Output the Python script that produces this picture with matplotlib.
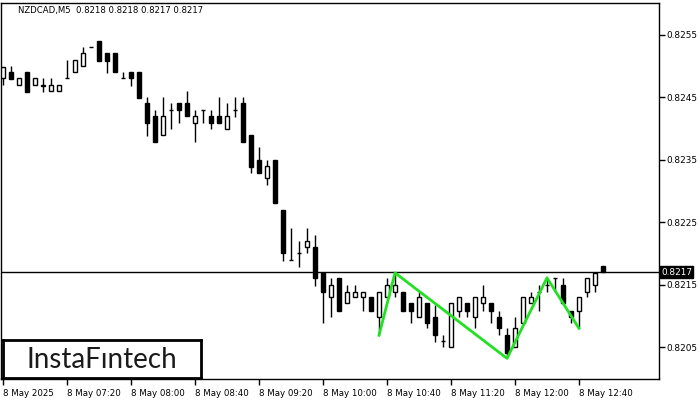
import matplotlib.pyplot as plt
import numpy as np

# 5-minute NZDCAD candles, 8 May 2025 06:40 .. 12:55
opens = [0.82481, 0.82491, 0.82470, 0.82491, 0.82470, 0.82468, 0.82460, 0.82460,
         0.82481, 0.82491, 0.82500, 0.82531, 0.82540, 0.82521, 0.82521, 0.82481,
         0.82491, 0.82491, 0.82441, 0.82420, 0.82390, 0.82430, 0.82441, 0.82441,
         0.82409, 0.82430, 0.82420, 0.82420, 0.82399, 0.82430, 0.82441, 0.82390,
         0.82350, 0.82321, 0.82350, 0.82270, 0.82189, 0.82201, 0.82210, 0.82210,
         0.82169, 0.82130, 0.82161, 0.82120, 0.82130, 0.82130, 0.82130, 0.82098,
         0.82130, 0.82138, 0.82138, 0.82120, 0.82098, 0.82120, 0.82098, 0.82060,
         0.82050, 0.82108, 0.82120, 0.82098, 0.82120, 0.82120, 0.82098, 0.82069,
         0.82050, 0.82088, 0.82120, 0.82138, 0.82149, 0.82161, 0.82149, 0.82108,
         0.82108, 0.82138, 0.82149, 0.82180]
highs = [0.82499, 0.82500, 0.82481, 0.82491, 0.82481, 0.82481, 0.82481, 0.82470,
         0.82510, 0.82510, 0.82531, 0.82531, 0.82540, 0.82521, 0.82521, 0.82491,
         0.82491, 0.82491, 0.82451, 0.82430, 0.82451, 0.82441, 0.82441, 0.82460,
         0.82430, 0.82430, 0.82430, 0.82451, 0.82441, 0.82451, 0.82451, 0.82390,
         0.82371, 0.82350, 0.82350, 0.82270, 0.82241, 0.82220, 0.82241, 0.82230,
         0.82169, 0.82161, 0.82161, 0.82149, 0.82149, 0.82138, 0.82130, 0.82138,
         0.82161, 0.82169, 0.82138, 0.82120, 0.82138, 0.82120, 0.82117, 0.82069,
         0.82120, 0.82130, 0.82120, 0.82130, 0.82149, 0.82120, 0.82108, 0.82080,
         0.82098, 0.82130, 0.82138, 0.82149, 0.82161, 0.82161, 0.82161, 0.82108,
         0.82130, 0.82161, 0.82169, 0.82180]
lows = [0.82470, 0.82480, 0.82470, 0.82459, 0.82470, 0.82459, 0.82460, 0.82460,
        0.82481, 0.82491, 0.82500, 0.82531, 0.82508, 0.82489, 0.82491, 0.82481,
        0.82468, 0.82449, 0.82388, 0.82379, 0.82390, 0.82399, 0.82409, 0.82420,
        0.82379, 0.82409, 0.82399, 0.82409, 0.82399, 0.82419, 0.82379, 0.82329,
        0.82329, 0.82310, 0.82281, 0.82188, 0.82189, 0.82178, 0.82201, 0.82148,
        0.82088, 0.82098, 0.82108, 0.82120, 0.82130, 0.82108, 0.82108, 0.82069,
        0.82130, 0.82130, 0.82108, 0.82088, 0.82098, 0.82080, 0.82058, 0.82050,
        0.82050, 0.82098, 0.82098, 0.82080, 0.82108, 0.82088, 0.82069, 0.82032,
        0.82050, 0.82088, 0.82120, 0.82108, 0.82138, 0.82138, 0.82120, 0.82088,
        0.82080, 0.82130, 0.82138, 0.82170]
closes = [0.82499, 0.82480, 0.82481, 0.82459, 0.82481, 0.82469, 0.82470, 0.82470,
          0.82481, 0.82510, 0.82521, 0.82531, 0.82508, 0.82508, 0.82491, 0.82481,
          0.82481, 0.82449, 0.82409, 0.82379, 0.82420, 0.82430, 0.82430, 0.82420,
          0.82420, 0.82430, 0.82409, 0.82409, 0.82420, 0.82430, 0.82379, 0.82338,
          0.82329, 0.82340, 0.82281, 0.82201, 0.82189, 0.82201, 0.82220, 0.82161,
          0.82138, 0.82149, 0.82108, 0.82138, 0.82138, 0.82138, 0.82108, 0.82138,
          0.82149, 0.82149, 0.82108, 0.82108, 0.82130, 0.82088, 0.82069, 0.82060,
          0.82120, 0.82130, 0.82108, 0.82130, 0.82130, 0.82108, 0.82080, 0.82040,
          0.82080, 0.82130, 0.82130, 0.82138, 0.82149, 0.82161, 0.82120, 0.82098,
          0.82130, 0.82161, 0.82169, 0.82170]

time_labels = ['8 May 2025', '8 May 07:20', '8 May 08:00', '8 May 08:40', '8 May 09:20',
               '8 May 10:00', '8 May 10:40', '8 May 11:20', '8 May 12:00', '8 May 12:40']
price_ticks = [0.8205, 0.8215, 0.8225, 0.8235, 0.8245, 0.8255]

# pattern (green zigzag): bar index, price
pattern_idx = [47, 49, 63, 68, 72]
pattern_px = [0.82069, 0.82169, 0.82032, 0.82161, 0.82080]

last_price = 0.8217
title = 'NZDCAD,M5  0.8218 0.8218 0.8217 0.8217'

fig = plt.figure(figsize=(7, 4), dpi=100)
ax = fig.add_axes([1 / 700, 21 / 400, 658 / 700, 376 / 400])

x = np.arange(len(opens))
o = np.array(opens)
c = np.array(closes)

ax.vlines(x, lows, highs, color='black', lw=1, zorder=2)
bull = c >= o
ax.bar(x[bull], np.abs(c - o)[bull], bottom=np.minimum(o, c)[bull], width=0.5,
       color='white', edgecolor='black', linewidth=1, zorder=3)
ax.bar(x[~bull], np.abs(c - o)[~bull], bottom=np.minimum(o, c)[~bull], width=0.5,
       color='black', edgecolor='black', linewidth=1, zorder=3)

ax.plot(pattern_idx, pattern_px, color='#22e022', lw=2, zorder=4)

ax.axhline(last_price, color='black', lw=1, zorder=1)

ax.set_xlim(-0.25, 82)
ax.set_ylim(0.81999, 0.82601)

ax.yaxis.tick_right()
ax.set_yticks(price_ticks)
ax.set_yticklabels(['%.4f' % p for p in price_ticks])
ax.set_xticks(np.arange(0, 80, 8))
ax.set_xticklabels(time_labels, ha='left')
ax.tick_params(axis='y', labelsize=6.4, length=4, width=1, direction='out', pad=1)
ax.tick_params(axis='x', labelsize=6.2, length=4, width=1, direction='out', pad=3)
for s in ax.spines.values():
    s.set_linewidth(1)

ax.text(1.003, last_price, '%.4f' % last_price, transform=ax.get_yaxis_transform(),
        ha='left', va='center', fontsize=6.4, color='white',
        bbox=dict(boxstyle='square,pad=0.15', fc='black', ec='black'))

fig.text(18 / 700, 1 - 11 / 400, title, fontsize=6.1, color='black', va='center', ha='left')

# logo box
logo = fig.add_axes([3 / 700, 22 / 400, 198 / 700, 38 / 400])
logo.set_xticks([])
logo.set_yticks([])
for s in logo.spines.values():
    s.set_linewidth(2)
logo.text(0.5, 0.47, 'InstaF\u0131ntech', ha='center', va='center', fontsize=20,
          family='Lato', color='#1a1a1a', transform=logo.transAxes)

fig.savefig('out.png', dpi=100)
